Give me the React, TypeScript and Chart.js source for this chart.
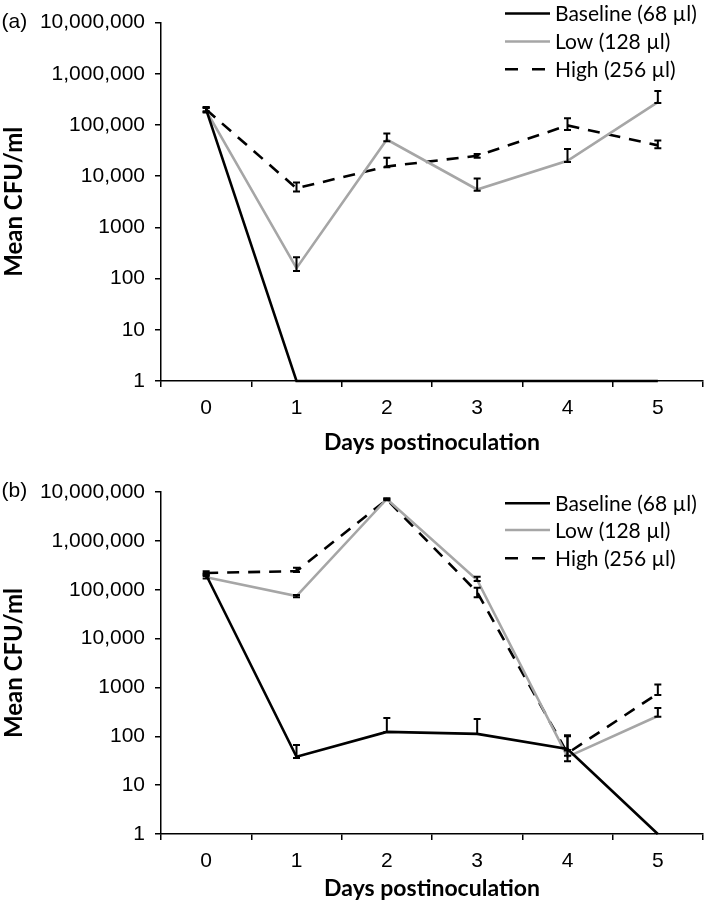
import React, { useEffect, useRef } from "react";
import { Chart, registerables } from "chart.js";

Chart.register(...registerables);

// ---------- data ----------
const DAYS = ["0", "1", "2", "3", "4", "5"];
const Y_TICKS = [1, 10, 100, 1000, 10000, 100000, 1000000, 10000000];
const SERIES_NAMES = ["Baseline (68 µl)", "Low (128 µl)", "High (256 µl)"];
const X_TITLE = "Days postinoculation";
const Y_TITLE = "Mean CFU/ml";

// Panel (a)
const A_BASELINE = [200000, 1, 1, 1, 1, 1];
const A_BASELINE_UP = [220000, null, null, null, null, null];
const A_BASELINE_LO = [185000, null, null, null, null, null];
const A_LOW = [190000, 160, 52000, 5500, 20000, 280000];
const A_LOW_UP = [215000, 260, 68000, 9000, 34000, 460000];
const A_LOW_LO = [175000, 140, 48000, 5200, 19000, 270000];
const A_HIGH = [200000, 5800, 15500, 25000, 98000, 40000];
const A_HIGH_UP = [225000, 7500, 23000, 27000, 135000, 50000];
const A_HIGH_LO = [180000, 5000, 15000, 23000, 80000, 35000];

// Panel (b)
const B_BASELINE = [200000, 38, 123, 112, 55, 1];
const B_BASELINE_UP = [220000, 66, 236, 225, 100, null];
const B_BASELINE_LO = [190000, 36, 123, 112, 52, null];
const B_LOW = [180000, 74000, 7200000, 158000, 38, 260];
const B_LOW_UP = [200000, 78000, 7400000, 185000, 52, 380];
const B_LOW_LO = [170000, 70000, 7000000, 150000, 31, 250];
const B_HIGH = [220000, 240000, 7000000, 89000, 45, 750];
const B_HIGH_UP = [240000, 280000, 7400000, 110000, 105, 1150];
const B_HIGH_LO = [210000, 230000, 6800000, 70000, 40, 700];

const BLACK = "#000000";
const GRAY = "#a6a6a6";
const DASH = [12, 9];

const TICK_FONT = { family: "'Liberation Sans', Arial, sans-serif", size: 21 };
const X_TITLE_FONT = { family: "Lato, 'Open Sans', sans-serif", size: 23, weight: "bold" as const, lineHeight: 0.8 };
const Y_TITLE_FONT = { family: "Lato, 'Open Sans', sans-serif", size: 24, weight: "bold" as const, lineHeight: 1.2 };
const LEGEND_FONT = "21px Lato, 'Open Sans', sans-serif";

// ---------- plugins ----------
const errorBarPlugin = {
  id: "errorBars",
  afterDatasetsDraw(chart: any) {
    const ctx = chart.ctx;
    const yScale = chart.scales.y;
    ctx.save();
    ctx.strokeStyle = BLACK;
    ctx.lineWidth = 2;
    ctx.setLineDash([]);
    chart.data.datasets.forEach((ds: any, i: number) => {
      const meta = chart.getDatasetMeta(i);
      const up = ds.errUp || [];
      const lo = ds.errLo || [];
      meta.data.forEach((pt: any, j: number) => {
        if (up[j] == null || lo[j] == null) return;
        const x = pt.x;
        const y1 = yScale.getPixelForValue(up[j]);
        const y2 = yScale.getPixelForValue(lo[j]);
        const w = 3.5;
        ctx.beginPath();
        ctx.moveTo(x, y1);
        ctx.lineTo(x, y2);
        ctx.moveTo(x - w, y1);
        ctx.lineTo(x + w, y1);
        ctx.moveTo(x - w, y2);
        ctx.lineTo(x + w, y2);
        ctx.stroke();
      });
    });
    ctx.restore();
  },
};

const annotationPlugin = {
  id: "panelAnnot",
  afterDraw(chart: any, _args: any, opts: any) {
    const ctx = chart.ctx;
    ctx.save();
    // panel label
    ctx.fillStyle = BLACK;
    ctx.font = `${TICK_FONT.size}px ${TICK_FONT.family}`;
    ctx.textAlign = "left";
    ctx.textBaseline = "middle";
    ctx.fillText(opts.label, 1.5, opts.labelY);
    // legend
    const styles = [
      { color: BLACK, dash: [] as number[], x1: 550 },
      { color: GRAY, dash: [] as number[], x1: 550 },
      { color: BLACK, dash: [13, 14], x1: 546 },
    ];
    ctx.font = LEGEND_FONT;
    SERIES_NAMES.forEach((name, i) => {
      const y = opts.legendY[i];
      const s = styles[i];
      ctx.beginPath();
      ctx.strokeStyle = s.color;
      ctx.lineWidth = 2.5;
      ctx.setLineDash(s.dash);
      ctx.moveTo(505, y);
      ctx.lineTo(s.x1, y);
      ctx.stroke();
      ctx.setLineDash([]);
      ctx.fillStyle = BLACK;
      ctx.fillText(name, 555, y + 1);
    });
    ctx.restore();
  },
};

function formatTick(v: number) {
  if (v >= 10000) return v.toLocaleString("en-US");
  return String(v);
}

function makeConfig(
  base: number[], baseUp: any[], baseLo: any[],
  low: number[], lowUp: any[], lowLo: any[],
  high: number[], highUp: any[], highLo: any[],
  p: { padTop: number; xHeight: number; titlePadBottom: number; label: string; labelY: number; legendY: number[] }
): any {
  return {
    type: "line",
    data: {
      labels: DAYS,
      datasets: [
        { label: SERIES_NAMES[0], data: base, errUp: baseUp, errLo: baseLo, borderColor: BLACK, borderWidth: 2.6, pointRadius: 0, tension: 0, clip: false },
        { label: SERIES_NAMES[1], data: low, errUp: lowUp, errLo: lowLo, borderColor: GRAY, borderWidth: 2.6, pointRadius: 0, tension: 0, clip: false },
        { label: SERIES_NAMES[2], data: high, errUp: highUp, errLo: highLo, borderColor: BLACK, borderWidth: 2.6, borderDash: DASH, pointRadius: 0, tension: 0, clip: false },
      ],
    },
    options: {
      responsive: false,
      animation: false,
      events: [],
      layout: { padding: { top: p.padTop, right: 6, left: 0, bottom: 0 } },
      plugins: {
        legend: { display: false },
        tooltip: { enabled: false },
        panelAnnot: { label: p.label, labelY: p.labelY, legendY: p.legendY },
      },
      scales: {
        x: {
          type: "category",
          offset: true,
          grid: { offset: true, drawOnChartArea: false, drawTicks: true, tickLength: 6, color: BLACK, lineWidth: 1.5 },
          border: { display: true, color: BLACK, width: 1.5 },
          ticks: { color: BLACK, font: TICK_FONT, padding: 9, maxRotation: 0 },
          title: { display: true, text: X_TITLE, color: BLACK, font: X_TITLE_FONT, padding: { top: 0, bottom: p.titlePadBottom } },
          afterFit: (s: any) => { s.height = p.xHeight; },
        },
        y: {
          type: "logarithmic",
          min: 1,
          max: 10000000,
          grid: { drawOnChartArea: false, drawTicks: true, tickLength: 6, color: BLACK, lineWidth: 1.5 },
          border: { display: true, color: BLACK, width: 1.5 },
          ticks: { color: BLACK, font: TICK_FONT, padding: 10, callback: (v: any) => formatTick(Number(v)), autoSkip: false },
          afterBuildTicks: (s: any) => { s.ticks = Y_TICKS.map((v) => ({ value: v })); },
          title: { display: true, text: Y_TITLE, color: BLACK, font: Y_TITLE_FONT, padding: { top: 0, bottom: 0 } },
          afterFit: (s: any) => { s.width = 161; },
        },
      },
    },
    plugins: [errorBarPlugin, annotationPlugin],
  };
}

function Panel(props: { config: any; width: number; height: number; top: number; z: number }) {
  const ref = useRef<HTMLCanvasElement | null>(null);
  useEffect(() => {
    if (!ref.current) return;
    const chart = new Chart(ref.current, props.config);
    return () => chart.destroy();
  }, []);
  return (
    <div style={{ position: "absolute", left: 0, top: props.top, width: props.width, height: props.height, zIndex: props.z }}>
      <canvas ref={ref} width={props.width} height={props.height} style={{ width: props.width, height: props.height, display: "block" }} />
    </div>
  );
}

export default function App() {
  const cfgA = makeConfig(
    A_BASELINE, A_BASELINE_UP, A_BASELINE_LO,
    A_LOW, A_LOW_UP, A_LOW_LO,
    A_HIGH, A_HIGH_UP, A_HIGH_LO,
    { padTop: 22, xHeight: 89, titlePadBottom: 18.3, label: "(a)", labelY: 22, legendY: [13.5, 41.5, 69.3] }
  );
  const cfgB = makeConfig(
    B_BASELINE, B_BASELINE_UP, B_BASELINE_LO,
    B_LOW, B_LOW_UP, B_LOW_LO,
    B_HIGH, B_HIGH_UP, B_HIGH_LO,
    { padTop: 40, xHeight: 71, titlePadBottom: 7.5, label: "(b)", labelY: 39.7, legendY: [51.3, 78, 106.3] }
  );
  return (
    <div style={{ position: "fixed", left: 0, top: 0, width: 709, height: 905, background: "#ffffff" }}>
      <Panel config={cfgA} width={709} height={470} top={0} z={1} />
      <Panel config={cfgB} width={709} height={453} top={452} z={2} />
    </div>
  );
}
